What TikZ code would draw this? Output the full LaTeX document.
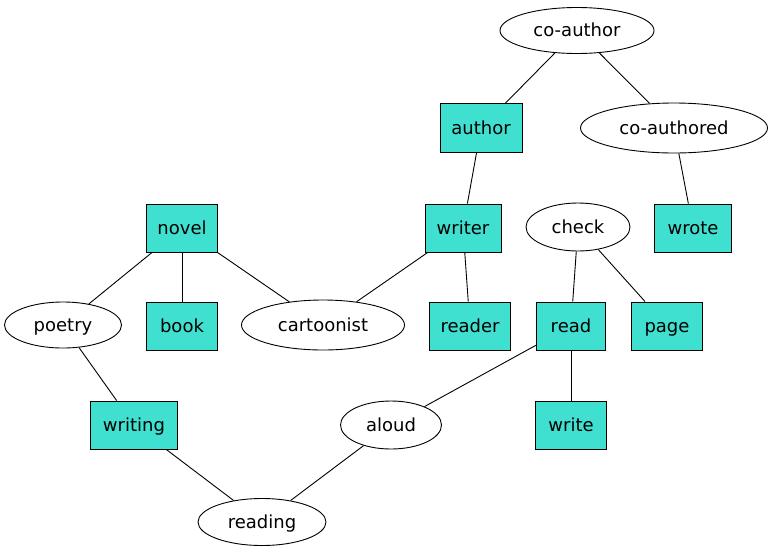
\documentclass[tikz,border=0pt]{standalone}
\usepackage{fontspec}
\setmainfont{DejaVu Sans}
\usetikzlibrary{shapes.geometric}
\definecolor{turq}{HTML}{40E0D0}
\tikzset{
  lbl/.style={font=\fontsize{18}{21}\selectfont, text height=14pt, text depth=2pt},
  ell/.style={lbl, ellipse, draw=black, fill=white, line width=0.9pt, inner sep=0pt},
  box/.style={lbl, rectangle, draw=black, fill=turq, line width=0.9pt, inner sep=0pt, minimum height=48pt},
  edge/.style={draw=black, line width=0.9pt}
}
\begin{document}
\begin{tikzpicture}[x=1pt,y=-1pt]
\useasboundingbox (0,0) rectangle (773,555);
\node[ell, minimum width=154pt, minimum height=46pt] (coauthor) at (577,30.5) {co-author};
\node[box, minimum width=82pt, minimum height=49pt] (author) at (481,128) {author};
\node[ell, minimum width=187pt, minimum height=50pt] (coauthored) at (674,128) {co-authored};
\node[box, minimum width=71pt] (novel) at (182,228) {novel};
\node[box, minimum width=76pt] (writer) at (463,228) {writer};
\node[ell, minimum width=104pt, minimum height=48pt] (check) at (578,227) {check};
\node[box, minimum width=77pt] (wrote) at (693,228) {wrote};
\node[ell, minimum width=117pt, minimum height=46pt] (poetry) at (63,325) {poetry};
\node[box, minimum width=71pt] (book) at (182,326) {book};
\node[ell, minimum width=163pt, minimum height=50pt] (cartoonist) at (323,325) {cartoonist};
\node[box, minimum width=81pt] (reader) at (470,326) {reader};
\node[box, minimum width=69pt] (read) at (571,326) {read};
\node[box, minimum width=71pt] (page) at (667,326) {page};
\node[box, minimum width=87pt] (writing) at (134,425) {writing};
\node[ell, minimum width=101pt, minimum height=48pt] (aloud) at (391,425) {aloud};
\node[box, minimum width=71pt] (write) at (571,425) {write};
\node[ell, minimum width=128pt, minimum height=47pt] (reading) at (262,522) {reading};
\draw[edge] (coauthor) -- (author);
\draw[edge] (coauthor) -- (coauthored);
\draw[edge] (author) -- (writer);
\draw[edge] (coauthored) -- (wrote);
\draw[edge] (novel) -- (poetry);
\draw[edge] (novel) -- (book);
\draw[edge] (novel) -- (cartoonist);
\draw[edge] (writer) -- (cartoonist);
\draw[edge] (writer) -- (reader);
\draw[edge] (check) -- (read);
\draw[edge] (check) -- (page);
\draw[edge] (poetry) -- (writing);
\draw[edge] (read) -- (aloud);
\draw[edge] (read) -- (write);
\draw[edge] (writing) -- (reading);
\draw[edge] (aloud) -- (reading);
\end{tikzpicture}
\end{document}
